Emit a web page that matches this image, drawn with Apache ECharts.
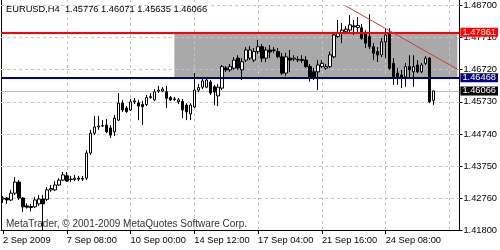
<!DOCTYPE html>
<html><head><meta charset="utf-8">
<script src="https://cdn.jsdelivr.net/npm/echarts@6/dist/echarts.min.js"></script>
<style>html,body{margin:0;padding:0;background:#fff}#c{width:500px;height:250px}</style>
</head><body><div id="c"></div>
<script>
const symbolTitle = 'EURUSD,H4  1.45776 1.46071 1.45635 1.46066';
const copyright = 'MetaTrader, \u00A9 2001-2009 MetaQuotes Software Corp.';
const timeLabels = ['2 Sep 2009','7 Sep 08:00','10 Sep 00:00','14 Sep 12:00','17 Sep 04:00','21 Sep 16:00','24 Sep 08:00'];
const barsPerLabel = 16;
const totalSlots = 115;
const priceTicks = [1.487,1.4771,1.4672,1.4573,1.4474,1.4375,1.4276,1.418];
const priceMin = 1.418, priceMax = 1.48853;

const open = [1.4275,1.4278,1.4272,1.4293,1.4327,1.4278,1.4254,1.4252,1.4251,1.4260,
1.4275,1.4274,1.4303,1.4303,1.4318,1.4333,1.4346,1.4336,1.4335,1.4339,
1.4336,1.4339,1.4416,1.4477,1.4496,1.4499,1.4502,1.4493,1.4481,1.4517,
1.4569,1.4554,1.4548,1.4573,1.4570,1.4565,1.4565,1.4586,1.4579,1.4606,
1.4606,1.4604,1.4586,1.4580,1.4573,1.4574,1.4563,1.4536,1.4557,1.4609,
1.4618,1.4618,1.4634,1.4619,1.4591,1.4615,1.4677,1.4671,1.4676,1.4707,
1.4671,1.4701,1.4707,1.4701,1.4727,1.4742,1.4707,1.4732,1.4732,1.4727,
1.4711,1.4661,1.4707,1.4704,1.4701,1.4703,1.4701,1.4681,1.4665,1.4665,
1.4681,1.4676,1.4681,1.4711,1.4773,1.4783,1.4788,1.4793,1.4806,1.4801,
1.4800,1.4783,1.4773,1.4742,1.4727,1.4717,1.4757,1.4783,1.4691,1.4661,
1.4655,1.4650,1.4681,1.4665,1.4686,1.4665,1.4691,1.4707,1.45776];
const close = [1.4278,1.4272,1.4293,1.4327,1.4278,1.4251,1.4250,1.4249,1.4272,1.4275,
1.4260,1.4303,1.4307,1.4318,1.4333,1.4349,1.4330,1.4335,1.4339,1.4336,
1.4338,1.4416,1.4477,1.4496,1.4499,1.4500,1.4481,1.4471,1.4523,1.4569,
1.4548,1.4543,1.4573,1.4576,1.4560,1.4558,1.4586,1.4589,1.4604,1.4609,
1.4612,1.4584,1.4579,1.4582,1.4579,1.4548,1.4542,1.4563,1.4609,1.4617,
1.4637,1.4640,1.4600,1.4603,1.4618,1.4681,1.4671,1.4681,1.4701,1.4677,
1.4696,1.4732,1.4732,1.4727,1.4742,1.4707,1.4732,1.4726,1.4731,1.4711,
1.4661,1.4711,1.4701,1.4707,1.4703,1.4700,1.4681,1.4645,1.4645,1.4686,
1.4691,1.4681,1.4717,1.4778,1.4783,1.4793,1.4796,1.4809,1.4803,1.4807,
1.4768,1.4753,1.4742,1.4722,1.4717,1.4757,1.4778,1.4676,1.4650,1.4650,
1.4647,1.4681,1.4671,1.4681,1.4665,1.4686,1.4707,1.4573,1.46066];
const low = [1.4263,1.4260,1.4269,1.4287,1.4272,1.4235,1.4246,1.4237,1.4247,1.4254,
1.4180,1.4269,1.4297,1.4300,1.4315,1.4330,1.4327,1.4327,1.4330,1.4330,
1.4330,1.4333,1.4410,1.4471,1.4487,1.4496,1.4477,1.4462,1.4468,1.4514,
1.4542,1.4539,1.4545,1.4566,1.4517,1.4502,1.4560,1.4582,1.4576,1.4600,
1.4603,1.4554,1.4576,1.4576,1.4566,1.4523,1.4517,1.4517,1.4554,1.4603,
1.4612,1.4615,1.4594,1.4563,1.4560,1.4609,1.4665,1.4665,1.4671,1.4671,
1.4640,1.4695,1.4701,1.4695,1.4720,1.4695,1.4695,1.4707,1.4723,1.4707,
1.4655,1.4652,1.4664,1.4698,1.4695,1.4692,1.4677,1.4635,1.4640,1.4609,
1.4677,1.4671,1.4677,1.4707,1.4769,1.4753,1.4784,1.4787,1.4778,1.4784,
1.4763,1.4738,1.4735,1.4701,1.4695,1.4710,1.4707,1.4671,1.4625,1.4625,
1.4615,1.4619,1.4646,1.4619,1.4661,1.4661,1.4686,1.4569,1.45635];
const high = [1.4284,1.4281,1.4303,1.4342,1.4333,1.4281,1.4262,1.4260,1.4281,1.4287,
1.4287,1.4312,1.4318,1.4330,1.4339,1.4358,1.4358,1.4346,1.4349,1.4346,
1.4346,1.4425,1.4487,1.4530,1.4530,1.4517,1.4520,1.4502,1.4533,1.4600,
1.4579,1.4560,1.4582,1.4585,1.4579,1.4576,1.4594,1.4600,1.4612,1.4622,
1.4618,1.4622,1.4591,1.4588,1.4585,1.4582,1.4569,1.4569,1.4661,1.4628,
1.4646,1.4649,1.4640,1.4625,1.4628,1.4686,1.4683,1.4689,1.4710,1.4716,
1.4707,1.4741,1.4744,1.4738,1.4763,1.4750,1.4741,1.4747,1.4741,1.4738,
1.4723,1.4723,1.4732,1.4716,1.4713,1.4716,1.4713,1.4689,1.4677,1.4701,
1.4701,1.4689,1.4727,1.4784,1.4824,1.4815,1.4805,1.4839,1.4824,1.4833,
1.4812,1.4793,1.4842,1.4753,1.4741,1.4769,1.4799,1.4799,1.4707,1.4677,
1.4671,1.4692,1.4716,1.4716,1.4701,1.4692,1.4713,1.4710,1.46071];

const resistance = 1.47861, support = 1.46468, bidPrice = 1.46066;
const rectStartBar = 43, rectEndBar = 114;
const trendLine = [[86, 1.4867], [114, 1.4673]];

const FONT = 'Liberation Sans';
const categories = [];
for (let i = 0; i < totalSlots; i++) {
  categories.push(i % barsPerLabel === 0 && timeLabels[i / barsPerLabel] ? timeLabels[i / barsPerLabel] : 'bar' + i);
}
const isLabelSlot = (i) => i % barsPerLabel === 0 && i / barsPerLabel < timeLabels.length;
const candles = open.map((o, i) => [o, close[i], low[i], high[i]]);
const gridLineStyle = { color: '#C4C4C4', type: [3, 3], width: 1 };
const vGrid = [];
for (let i = barsPerLabel; i < totalSlots; i += barsPerLabel) vGrid.push({ xAxis: i });
const hGrid = priceTicks.slice(0, -1).map(v => ({ yAxis: v }));

const priceLabel = (bg) => ({
  show: true, position: 'end', distance: 1, formatter: (p) => Number(p.value).toFixed(5),
  backgroundColor: bg, color: '#fff', padding: [0, 2, 0, 2], lineHeight: 9,
  fontSize: 9.3, fontFamily: FONT
});

const chart = echarts.init(document.getElementById('c'), null, { renderer: 'canvas' });
chart.setOption({
  animation: false,
  backgroundColor: '#fff',
  title: [
    { text: symbolTitle, left: 6, top: 5, padding: 0, textStyle: { fontSize: 9.3, fontWeight: 'normal', color: '#000', fontFamily: FONT } },
    { text: copyright, left: 6, top: 219, padding: 0, textStyle: { fontSize: 10, fontWeight: 'normal', color: '#333', fontFamily: FONT } }
  ],
  grid: { left: 1, right: 39, top: 0, bottom: 20 },
  xAxis: {
    type: 'category', data: categories, boundaryGap: true,
    axisLine: { show: true, onZero: false, lineStyle: { color: '#000', width: 1 } },
    axisTick: { show: true, alignWithLabel: true, interval: isLabelSlot, length: 4, lineStyle: { color: '#000' } },
    axisLabel: { show: true, interval: isLabelSlot, align: 'left', margin: 6, color: '#000', fontSize: 9.3, fontFamily: FONT },
    splitLine: { show: false }
  },
  yAxis: [
    {
      type: 'value', position: 'right', min: priceMin, max: priceMax, scale: true,
      axisLine: { show: true, lineStyle: { color: '#000', width: 1 } },
      axisTick: { show: true, length: 3, customValues: priceTicks, lineStyle: { color: '#000' } },
      axisLabel: { show: true, customValues: priceTicks, formatter: (v) => v.toFixed(5), margin: 4, color: '#000', fontSize: 9.3, fontFamily: FONT },
      splitLine: { show: false }
    },
    {
      type: 'value', position: 'left', min: priceMin, max: priceMax, scale: true,
      axisLine: { show: true, lineStyle: { color: '#000', width: 1 } },
      axisTick: { show: false }, axisLabel: { show: false }, splitLine: { show: false }
    }
  ],
  series: [
    {
      type: 'line', data: [], z: 1, silent: true,
      markArea: {
        silent: true, z: 1,
        itemStyle: { color: '#A9A9A9', opacity: 1 },
        data: [[{ xAxis: rectStartBar, yAxis: resistance }, { xAxis: rectEndBar, yAxis: support }]]
      },
      markLine: {
        silent: true, z: 1.5, symbol: 'none', precision: 5, label: { show: false },
        lineStyle: gridLineStyle,
        data: vGrid.concat(hGrid)
      }
    },
    {
      type: 'candlestick', data: candles, z: 3, barWidth: 3, silent: true,
      itemStyle: { color: '#fff', color0: '#000', borderColor: '#000', borderColor0: '#000', borderWidth: 1 },
      markLine: {
        silent: true, z: 2.5, symbol: 'none', precision: 5,
        data: [
          { yAxis: bidPrice, lineStyle: { color: '#C0C0C0', width: 1, type: 'solid' }, label: priceLabel('#000') }
        ]
      }
    },
    {
      type: 'line', data: trendLine, z: 6, silent: true, showSymbol: false, symbol: 'none',
      lineStyle: { color: '#C83C3C', width: 1 },
      markLine: {
        silent: true, z: 5, symbol: 'none', precision: 5,
        data: [
          { yAxis: resistance, lineStyle: { color: '#FF0000', width: 2, type: 'solid' }, label: priceLabel('#FF0000') },
          { yAxis: support, lineStyle: { color: '#000080', width: 2, type: 'solid' }, label: priceLabel('#000080') }
        ]
      }
    }
  ]
});
</script></body></html>
